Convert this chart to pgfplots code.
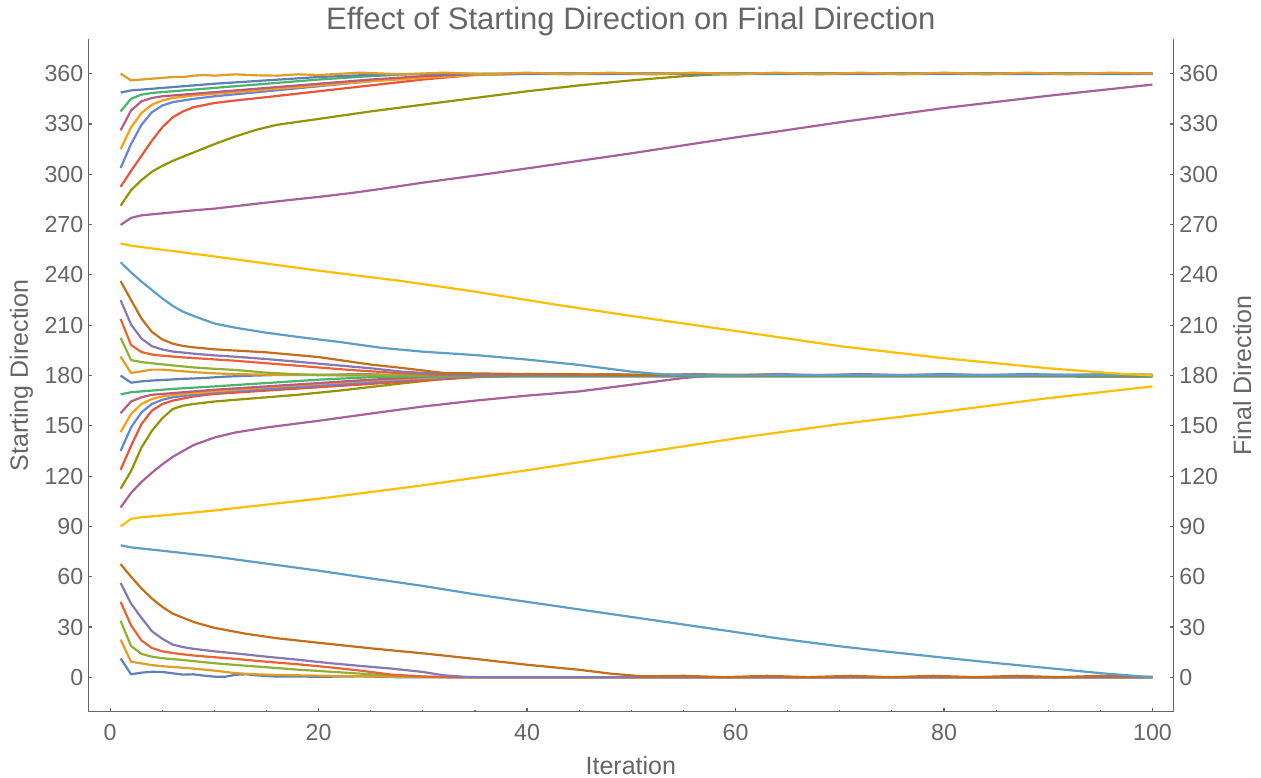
\documentclass[border=0pt]{standalone}
\usepackage{fontspec}
\setmainfont{Liberation Sans}
\usepackage{pgfplots}
\pgfplotsset{compat=1.18}
\definecolor{axgray}{HTML}{666666}
\definecolor{c1}{rgb}{0.368417,0.506779,0.709798}
\definecolor{c2}{rgb}{0.880722,0.611041,0.142051}
\definecolor{c3}{rgb}{0.560181,0.691569,0.194885}
\definecolor{c4}{rgb}{0.922526,0.385626,0.209179}
\definecolor{c5}{rgb}{0.528488,0.470624,0.701351}
\definecolor{c6}{rgb}{0.772079,0.431554,0.102387}
\definecolor{c7}{rgb}{0.363898,0.618501,0.782349}
\definecolor{c8}{rgb}{1,0.75,0}
\definecolor{c9}{rgb}{0.647624,0.37816,0.614037}
\definecolor{c10}{rgb}{0.571589,0.586483,0}
\definecolor{c11}{rgb}{0.915,0.3325,0.2125}
\definecolor{c12}{rgb}{0.400822,0.522007,0.85}
\definecolor{c13}{rgb}{0.972829,0.621644,0.073362}
\definecolor{c14}{rgb}{0.736783,0.358,0.503027}
\definecolor{c15}{rgb}{0.280264,0.715,0.429209}
\begin{document}
\begin{tikzpicture}
\pgfplotsset{
  myaxis/.style={
    scale only axis, width=542.5bp, height=336.2bp,
    anchor=south west, at={(0,0)},
    xmin=-2.1, xmax=102, ymin=-20.5, ymax=380.5,
    tick align=inside,
    major tick length=1.8bp, minor tick length=1.1bp,
    axis line style={-, draw=axgray, line width=0.6bp},
    every tick/.style={axgray, line width=0.6bp},
    ticklabel style={font=\fontsize{11.6bp}{13bp}\selectfont, text=axgray, inner sep=0pt},
    label style={font=\fontsize{12.5bp}{15bp}\selectfont, text=axgray, inner sep=0pt},
    /pgf/number format/assume math mode=true,
    ytick={0,30,...,360},
  },
  ln/.style={line width=1.1bp, mark=none, line join=round},
}
\begin{axis}[myaxis,
  axis x line*=bottom, axis y line*=left,
  xtick={0,20,...,100}, minor x tick num=3,
  xticklabel style={anchor=base, yshift=-14.15bp},
  yticklabel style={anchor=east, xshift=-2.3bp},
  title={Effect of Starting Direction on Final Direction},
  every axis title/.style={at={(0.5,1)}, anchor=base, yshift=4.65bp, font=\fontsize{15.5bp}{18bp}\selectfont, text=axgray, inner sep=0pt},
  xlabel={Iteration},
  xlabel style={at={(0.5,0)}, anchor=base, yshift=-31.6bp},
  ylabel={Starting Direction},
  ylabel style={at={(0,0.5)}, anchor=base, yshift=30.15bp},
]
% converge to 0
\addplot[ln,c1] coordinates {(1,11.25)(2,1.8)(3,2.8)(4,3.3)(5,3.2)(6,2.4)(7,1.6)(8,1.8)(9,1.0)(10,0.4)(11,0.3)(12,1.5)(13,1.8)(14,1.2)(16,0.4)(18,0.5)(20,0.3)(24,0.6)(28,0)(100,0)};
\addplot[ln,c2] coordinates {(1,22.5)(2,9.3)(3,8.3)(4,7.3)(5,6.6)(6,6.2)(8,5.2)(10,4)(12,2.5)(14,1.8)(16,1.4)(20,1)(25,0.5)(30,0.2)(35,0)(100,0)};
\addplot[ln,c3] coordinates {(1,33.75)(2,18.7)(3,14)(4,12.3)(5,11.4)(7,10.3)(10,8.4)(12,7.4)(15,6)(18,4.6)(21,3.4)(24,2.2)(27,1)(30,0.3)(35,0)(100,0)};
\addplot[ln,c4] coordinates {(1,45)(2,31)(3,22)(4,17.5)(5,15.5)(6,14.5)(7,13.7)(8,13)(10,12)(12,11)(15,9.3)(18,7.8)(21,6)(24,4)(27,1.6)(30,0.5)(33,0)(100,0)};
\addplot[ln,c5] coordinates {(1,56.25)(2,44)(3,35.5)(4,27.5)(5,23)(6,19.5)(7,18)(8,17)(10,15.5)(12,14.3)(15,12.3)(18,10.5)(21,8.5)(24,6.8)(27,5.2)(30,3.2)(32,1.2)(34,0.3)(36,0)(100,0)};
\addplot[ln,c6] coordinates {(1,67.5)(2,60)(3,53)(4,47)(5,42)(6,38)(7,35.5)(8,33)(10,29.5)(13,26)(16,23.3)(20,20.6)(25,17.3)(30,14.3)(35,11)(40,7.5)(45,4.5)(48,2.2)(51,0.6)(55,0.9)(59,0.1)(63,0.9)(67,0.1)(71,0.9)(75,0.1)(79,0.9)(83,0.1)(87,0.9)(91,0.1)(95,0.9)(100,0.3)};
\addplot[ln,c7] coordinates {(1,78.75)(2,77.5)(5,75.5)(10,72)(15,67.8)(20,63.6)(25,59)(30,54.5)(35,49.5)(40,45)(45,40.5)(50,36)(55,31.5)(60,27)(64,23.3)(70,18.5)(75,15)(80,11.7)(85,8.5)(90,5.5)(95,2.5)(100,0)};
% from below to 180
\addplot[ln,c8] coordinates {(1,90)(2,94.5)(3,95.5)(5,96.5)(10,99.5)(20,106.5)(30,114.5)(35,119)(40,123.5)(50,133)(60,142.5)(70,151)(80,158.5)(90,166.5)(100,173.5)};
\addplot[ln,c9] coordinates {(1,101.25)(2,110)(3,116.5)(4,122)(5,127)(6,131.5)(7,135)(8,138.5)(10,143)(12,146)(15,149)(20,153)(25,157.3)(30,161.5)(35,165)(40,168)(45,170.5)(50,174.5)(55,178.5)(58,180)(100,180)};
\addplot[ln,c10] coordinates {(1,112.5)(2,123)(3,137)(4,147)(5,154.5)(6,160)(7,162)(8,163)(10,164.5)(12,165.5)(15,167)(18,168.5)(22,171)(28,175.3)(32,178)(36,179.5)(40,179.7)(100,179.6)};
\addplot[ln,c11] coordinates {(1,123.75)(2,138)(3,151)(4,159)(5,163)(6,165)(8,167.5)(10,169)(15,171)(20,173)(25,175)(30,177)(35,179)(40,180)(100,180)};
\addplot[ln,c12] coordinates {(1,135)(2,149)(3,158)(4,163)(5,165.5)(6,167)(8,168.5)(10,170)(15,172)(20,174)(25,176)(30,178)(35,179.5)(40,180)(100,180)};
\addplot[ln,c13] coordinates {(1,146.25)(2,157)(3,163)(4,166)(5,167.5)(7,169)(10,170.5)(15,173)(20,175)(25,177)(30,178.5)(35,180)(100,180)};
\addplot[ln,c14] coordinates {(1,157.5)(2,164.5)(3,167)(4,168.5)(5,169)(7,170)(10,171.5)(15,173.5)(20,175.5)(25,177.5)(30,179)(35,180)(100,180)};
\addplot[ln,c15] coordinates {(1,168.75)(2,170)(4,171)(6,172)(10,173.5)(15,175.5)(20,177.5)(25,179)(30,179.4)(100,179.3)};
% from above to 180
\addplot[ln,c1] coordinates {(1,180)(2,175.7)(3,176.5)(4,177)(5,177.3)(7,178)(9,178.5)(11,179.3)(13,179.8)(16,180.3)(20,180.2)(24,180.9)(28,180.1)(32,180.9)(36,180.1)(40,180.9)(44,180.1)(48,180.9)(52,180.1)(56,180.9)(60,180.1)(64,180.9)(68,180.1)(72,180.9)(76,180.1)(80,180.9)(84,180.1)(88,180.9)(92,180.1)(96,180.9)(100,180.3)};
\addplot[ln,c2] coordinates {(1,191.25)(2,181.5)(3,182.5)(4,183.5)(5,183.5)(6,183)(8,182)(10,181.3)(12,180.8)(15,180.5)(100,180.3)};
\addplot[ln,c3] coordinates {(1,202.5)(2,189.2)(3,188)(4,187.3)(6,186)(8,184.8)(10,184)(12,183.3)(15,181.7)(18,180.7)(22,180)(100,180)};
\addplot[ln,c4] coordinates {(1,213.75)(2,198.2)(3,194)(4,192.5)(5,191.8)(7,190.8)(9,190)(12,188.8)(15,187.3)(18,185.8)(23,183.3)(28,181.3)(32,180.3)(35,180)(100,180)};
\addplot[ln,c5] coordinates {(1,225)(2,210.4)(3,202)(4,197.5)(5,195.5)(6,194.3)(8,193)(10,192)(12,191.2)(15,189.8)(18,188.2)(21,186.5)(25,184.3)(28,182.3)(32,180.8)(36,180)(100,180)};
\addplot[ln,c6] coordinates {(1,236.25)(2,225)(3,214)(4,206)(5,201.5)(6,199)(7,197.6)(8,196.8)(10,195.6)(15,193.8)(20,191)(25,186.5)(28,184.5)(32,181.5)(38,181)(45,180.7)(50,180.3)(100,180.3)};
\addplot[ln,c7] coordinates {(1,247.5)(2,241.5)(3,236)(4,231)(5,226)(6,221.5)(7,218)(8,215.5)(10,211)(12,208.5)(15,205.5)(18,203)(22,200)(26,196.5)(30,194.2)(35,192.2)(40,189.5)(45,186.3)(50,182.3)(53,180.7)(56,180)(100,180.5)};
\addplot[ln,c8] coordinates {(1,258.75)(2,257.4)(5,255)(10,251)(20,242.5)(28,236.3)(35,230)(43,222)(50,215.5)(61.5,205.2)(70,197.5)(80,190.3)(90,184.3)(96,181.4)(100,180)};
% upper group, converge to 360
\addplot[ln,c9] coordinates {(1,269.75)(2,274)(3,275.5)(5,276.7)(8,278.5)(10,279.5)(13,281.7)(17,284.5)(20,286.5)(23,288.7)(26,291.3)(30,295)(35.5,299.6)(40,303.5)(50,312.5)(60,322)(64,325.5)(70,331)(80,339.5)(90,346.8)(100,353.5)};
\addplot[ln,c10] coordinates {(1,281.25)(2,290.5)(3,296.5)(4,301.5)(5,305)(6,308)(7,310.5)(8,313)(10,318)(12,322.5)(14,326.5)(16,329.5)(20,333)(25,337.5)(30,341.5)(35,345.5)(40,349.5)(45,353)(50,356)(55,358.5)(58,359.5)(62,360)(100,360)};
\addplot[ln,c11] coordinates {(1,292.5)(2,302)(3,311)(4,320)(5,328)(6,334)(7,337.5)(8,340)(10,342.5)(12,344)(15,346)(20,349.5)(25,353)(30,356.5)(35,359.3)(40,360)(100,360)};
\addplot[ln,c12] coordinates {(1,303.75)(2,318)(3,329.5)(4,337)(5,341)(6,343)(8,345)(10,346.5)(15,349.5)(20,352.5)(25,355.5)(30,358)(35,359.5)(40,360)(100,360)};
\addplot[ln,c13] coordinates {(1,315)(2,328)(3,336.5)(4,341.5)(5,344)(6,345.5)(8,347)(10,348)(15,350.5)(20,353)(25,355.5)(30,357.5)(35,359.2)(40,360)(100,360)};
\addplot[ln,c14] coordinates {(1,326.25)(2,338)(3,343.5)(4,345.5)(5,346.5)(7,347.5)(10,349)(15,351.5)(20,354)(25,356.5)(30,358.5)(35,359.7)(40,360)(100,360)};
\addplot[ln,c15] coordinates {(1,337.5)(2,345)(3,347.5)(4,348.5)(5,349)(7,350)(10,351.5)(15,354)(20,356.5)(25,358.5)(28,359.5)(32,360)(100,360)};
\addplot[ln,c1] coordinates {(1,348.75)(2,350)(3,350.5)(5,351.5)(7,352.5)(10,354)(15,356)(20,358)(25,359.3)(28,359.8)(100,359.8)};
\addplot[ln,c2] coordinates {(1,360)(2,356)(3,356.5)(4,357)(5,357.5)(6,358)(7,358)(8,358.8)(9,359.2)(10,358.8)(12,359.6)(14,359)(16,358.8)(18,359.6)(20,359.2)(24,360.6)(28,359.6)(32,360.6)(36,359.6)(40,360.6)(44,359.6)(48,360.6)(52,359.6)(56,360.6)(60,359.6)(64,360.6)(68,359.6)(72,360.6)(76,359.6)(80,360.6)(84,359.6)(88,360.6)(92,359.6)(96,360.6)(100,360)};
\end{axis}
\begin{axis}[myaxis,
  axis y line*=right, axis x line=none,
  yticklabel style={anchor=west, xshift=2.85bp},
  ylabel={Final Direction},
  ylabel style={at={(1,0.5)}, anchor=base, yshift=-38.85bp},
]
\end{axis}
\pgfresetboundingbox
\path[use as bounding box] (-44.15bp,-33.15bp) rectangle (586.35bp,355.85bp);
\end{tikzpicture}
\end{document}
